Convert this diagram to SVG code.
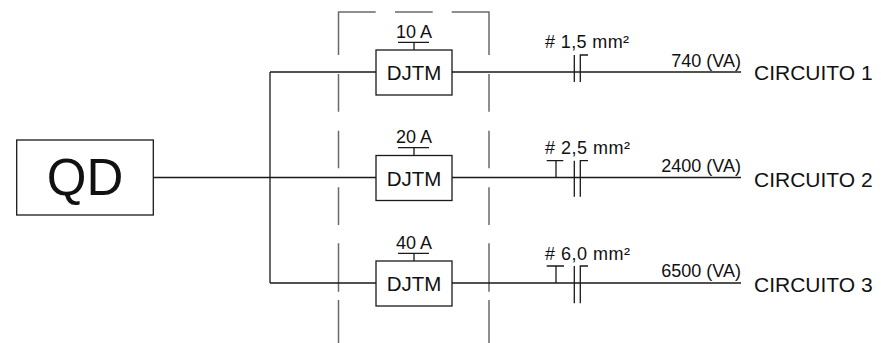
<svg xmlns="http://www.w3.org/2000/svg" width="881" height="343" viewBox="0 0 881 343">
<style>
.ln{stroke:#1a1a1a;stroke-width:1.3;fill:none}
.box{stroke:#1a1a1a;stroke-width:1.3;fill:#fff}
.dash{stroke:#6a6a6a;stroke-width:1.5;fill:none}
text{font-family:"Liberation Sans",Arial,sans-serif;fill:#111}
.amp{font-size:18px;text-anchor:middle}
.dj{font-size:20.5px;text-anchor:middle}
.sec{font-size:18px}
.va{font-size:18px;text-anchor:end}
.cir{font-size:21px}
</style>
<rect width="881" height="343" fill="#fff"/>
<g id="panel">
<path class="dash" d="M338.5,55V12H375.7M395,12H432.7M451.7,12H489V55M338.5,74V111.7M338.5,130.7V168.3M338.5,187.3V225M338.5,243.3V291.7M338.5,300V343M489,74V111.7M489,130.7V168.3M489,187.3V225M489,243.3V291.7M489,300V343"/>
</g>
<g id="connectors">
<path class="ln" d="M153.3,177.5H376M270,72V283M270,72H376M270,283H376"/>
<path class="ln" d="M452,72H741M452,177.5H741M452,283H741"/>
<path class="ln" d="M414,42.3V50M398,42.3H429M414,147.7V155.5M398,147.7H429M414,253.3V261M398,253.3H429"/>
</g>
<g id="QD">
<rect class="box" x="16.7" y="140" width="136.6" height="75"/>
<text x="85" y="195" font-size="51" text-anchor="middle">QD</text>
</g>
<g id="DJTM1">
<rect class="box" x="376" y="50" width="76" height="45"/>
<text class="dj" x="414" y="80">DJTM</text>
<text class="amp" x="414" y="38">10 A</text>
</g>
<g id="DJTM2">
<rect class="box" x="376" y="155.5" width="76" height="45"/>
<text class="dj" x="414" y="185.5">DJTM</text>
<text class="amp" x="414" y="143.3">20 A</text>
</g>
<g id="DJTM3">
<rect class="box" x="376" y="261" width="76" height="45"/>
<text class="dj" x="414" y="291">DJTM</text>
<text class="amp" x="414" y="249">40 A</text>
</g>
<g id="cable1">
<path class="ln" d="M574.3,55V82M580.3,82V55H588"/>
<text class="sec" x="545" y="48.3" textLength="84" lengthAdjust="spacing">#&#160;1,5 mm²</text>
<text class="va" x="741" y="66.7">740 (VA)</text>
<text class="cir" x="754" y="80">CIRCUITO 1</text>
</g>
<g id="cable2">
<path class="ln" d="M546.7,160.7H563.3M556,160.7V177.5M574.3,160.7V196.7M580.3,196.7V160.7H588"/>
<text class="sec" x="545" y="154.3" textLength="85" lengthAdjust="spacing">#&#160;2,5 mm²</text>
<text class="va" x="741" y="172">2400 (VA)</text>
<text class="cir" x="754" y="187">CIRCUITO 2</text>
</g>
<g id="cable3">
<path class="ln" d="M546.7,266H564M556,266V283M574.3,266V303.3M580.3,303.3V266H588"/>
<text class="sec" x="545" y="260" textLength="85" lengthAdjust="spacing">#&#160;6,0 mm²</text>
<text class="va" x="741" y="276.7">6500 (VA)</text>
<text class="cir" x="754" y="292">CIRCUITO 3</text>
</g>
</svg>
